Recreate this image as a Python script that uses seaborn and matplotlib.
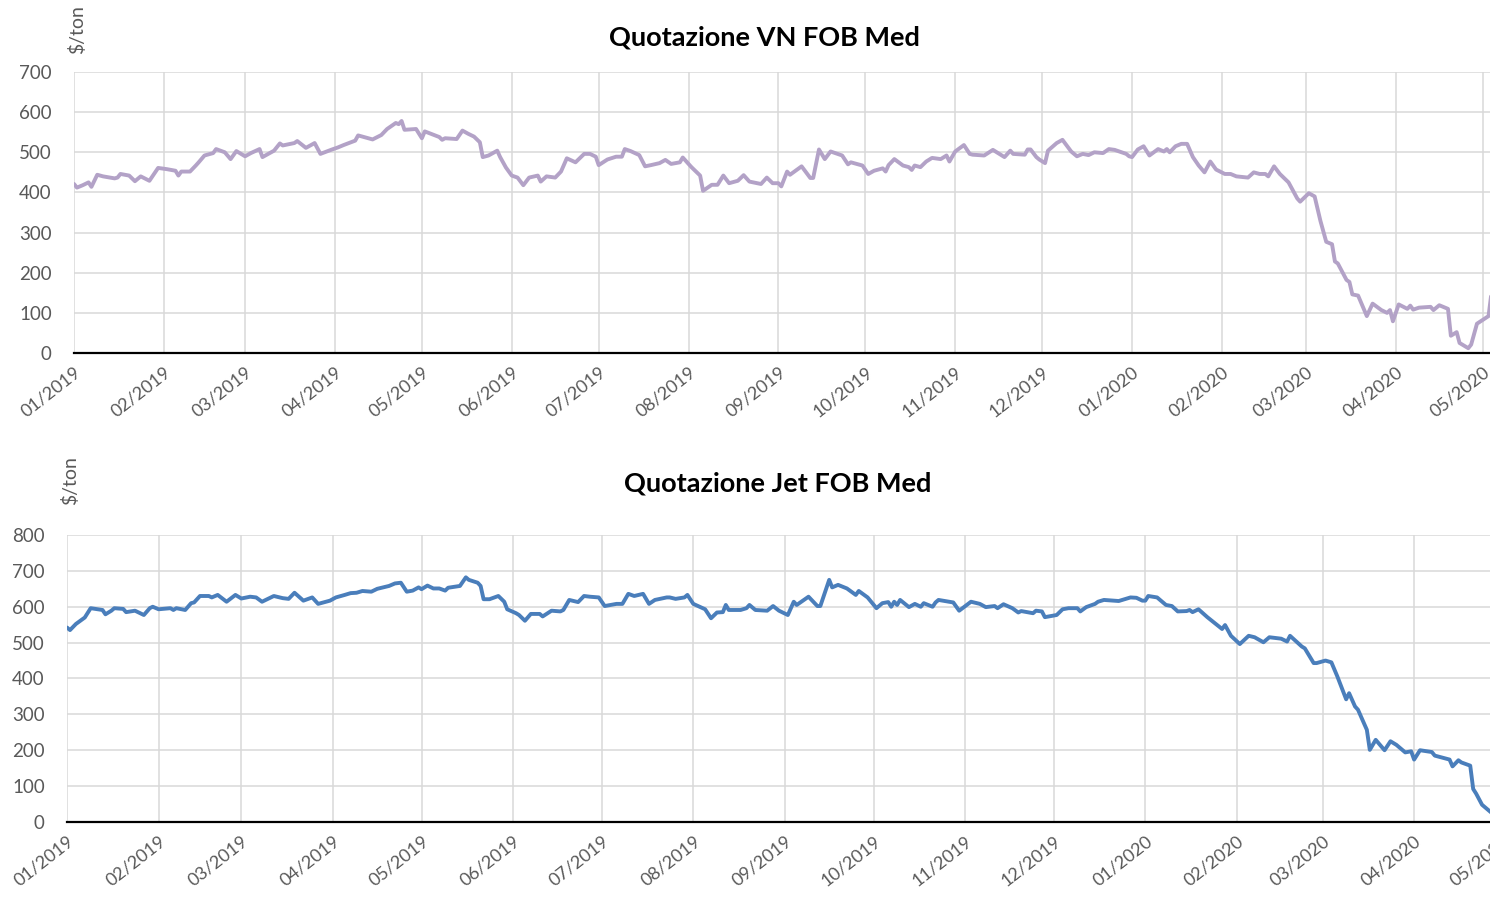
import pandas as pd
import matplotlib.pyplot as plt
import matplotlib.dates as mdates
import seaborn as sns

# ==========================================
# 1. DATA ($/ton)
# ==========================================
vn_dates = [
    "2019-01-01", "2019-01-02", "2019-01-04", "2019-01-06", "2019-01-07", "2019-01-09", "2019-01-11",
    "2019-01-15", "2019-01-16", "2019-01-17", "2019-01-20", "2019-01-22", "2019-01-24", "2019-01-27",
    "2019-01-30", "2019-02-02", "2019-02-05", "2019-02-06", "2019-02-07", "2019-02-10", "2019-02-12",
    "2019-02-13", "2019-02-15", "2019-02-18", "2019-02-19", "2019-02-22", "2019-02-24", "2019-02-26",
    "2019-03-01", "2019-03-03", "2019-03-06", "2019-03-07", "2019-03-11", "2019-03-13", "2019-03-14",
    "2019-03-18", "2019-03-19", "2019-03-22", "2019-03-25", "2019-03-27", "2019-03-31", "2019-04-02",
    "2019-04-04", "2019-04-08", "2019-04-09", "2019-04-11", "2019-04-14", "2019-04-17", "2019-04-19",
    "2019-04-22", "2019-04-23", "2019-04-24", "2019-04-25", "2019-04-29", "2019-05-01", "2019-05-02",
    "2019-05-07", "2019-05-08", "2019-05-09", "2019-05-13", "2019-05-15", "2019-05-17", "2019-05-19",
    "2019-05-21", "2019-05-22", "2019-05-24", "2019-05-27", "2019-05-28", "2019-05-30", "2019-06-01",
    "2019-06-03", "2019-06-05", "2019-06-07", "2019-06-10", "2019-06-11", "2019-06-13", "2019-06-16",
    "2019-06-18", "2019-06-20", "2019-06-23", "2019-06-26", "2019-06-28", "2019-06-30", "2019-07-01",
    "2019-07-04", "2019-07-07", "2019-07-09", "2019-07-10", "2019-07-12", "2019-07-15", "2019-07-17",
    "2019-07-19", "2019-07-22", "2019-07-24", "2019-07-26", "2019-07-29", "2019-07-30", "2019-08-02",
    "2019-08-05", "2019-08-06", "2019-08-09", "2019-08-11", "2019-08-13", "2019-08-15", "2019-08-18",
    "2019-08-20", "2019-08-22", "2019-08-26", "2019-08-28", "2019-08-30", "2019-09-01", "2019-09-02",
    "2019-09-04", "2019-09-05", "2019-09-09", "2019-09-12", "2019-09-13", "2019-09-15", "2019-09-17",
    "2019-09-19", "2019-09-23", "2019-09-25", "2019-09-26", "2019-09-30", "2019-10-02", "2019-10-04",
    "2019-10-07", "2019-10-08", "2019-10-09", "2019-10-11", "2019-10-14", "2019-10-16", "2019-10-17",
    "2019-10-18", "2019-10-20", "2019-10-22", "2019-10-24", "2019-10-27", "2019-10-29", "2019-10-30",
    "2019-11-01", "2019-11-04", "2019-11-06", "2019-11-07", "2019-11-11", "2019-11-14", "2019-11-18",
    "2019-11-20", "2019-11-21", "2019-11-25", "2019-11-26", "2019-11-27", "2019-11-29", "2019-11-30",
    "2019-12-02", "2019-12-03", "2019-12-06", "2019-12-08", "2019-12-11", "2019-12-13", "2019-12-15",
    "2019-12-17", "2019-12-19", "2019-12-22", "2019-12-24", "2019-12-26", "2019-12-30", "2019-12-31",
    "2020-01-01", "2020-01-03", "2020-01-05", "2020-01-07", "2020-01-10", "2020-01-12", "2020-01-13",
    "2020-01-14", "2020-01-16", "2020-01-18", "2020-01-20", "2020-01-22", "2020-01-24", "2020-01-26",
    "2020-01-28", "2020-01-30", "2020-02-02", "2020-02-04", "2020-02-06", "2020-02-10", "2020-02-12",
    "2020-02-14", "2020-02-16", "2020-02-17", "2020-02-19", "2020-02-21", "2020-02-24", "2020-02-27",
    "2020-02-28", "2020-03-02", "2020-03-04", "2020-03-06", "2020-03-08", "2020-03-10", "2020-03-11",
    "2020-03-12", "2020-03-15", "2020-03-16", "2020-03-17", "2020-03-19", "2020-03-22", "2020-03-24",
    "2020-03-27", "2020-03-29", "2020-03-30", "2020-03-31", "2020-04-02", "2020-04-05", "2020-04-06",
    "2020-04-07", "2020-04-09", "2020-04-13", "2020-04-14", "2020-04-16", "2020-04-19", "2020-04-20",
    "2020-04-22", "2020-04-23", "2020-04-26", "2020-04-27", "2020-04-29", "2020-05-03", "2020-05-04",
]
vn_prices = [
    421, 412, 418, 425, 414, 444, 440, 435, 437, 446, 442, 428, 440, 429,
    461, 458, 454, 442, 452, 452, 467, 475, 492, 498, 508, 500, 483, 503,
    490, 498, 508, 488, 504, 522, 517, 523, 528, 511, 523, 496, 507, 512,
    518, 529, 542, 538, 532, 543, 558, 573, 570, 578, 556, 558, 535, 552,
    538, 531, 535, 533, 554, 546, 539, 525, 488, 492, 504, 488, 462, 442,
    437, 418, 437, 442, 427, 440, 437, 452, 485, 475, 496, 496, 489, 468,
    482, 489, 489, 508, 503, 493, 465, 468, 473, 481, 471, 475, 487, 463,
    442, 404, 419, 419, 442, 423, 429, 443, 427, 421, 437, 423, 423, 415,
    452, 444, 465, 436, 436, 507, 483, 502, 492, 470, 475, 467, 446, 454,
    460, 452, 468, 483, 467, 463, 456, 467, 463, 477, 486, 483, 492, 477,
    502, 518, 496, 494, 492, 506, 488, 504, 496, 494, 507, 507, 488, 482,
    473, 504, 523, 531, 502, 490, 496, 493, 500, 498, 508, 506, 496, 490,
    488, 507, 515, 492, 508, 502, 508, 500, 515, 521, 521, 488, 467, 450,
    477, 457, 446, 446, 440, 437, 450, 446, 446, 440, 465, 446, 425, 385,
    377, 398, 390, 329, 277, 271, 228, 223, 182, 177, 146, 143, 92, 123,
    107, 100, 107, 79, 121, 110, 118, 108, 113, 115, 107, 119, 110, 43,
    52, 25, 12, 21, 73, 92, 150,
]

jet_dates = [
    "2019-01-01", "2019-01-02", "2019-01-04", "2019-01-07", "2019-01-09", "2019-01-13", "2019-01-14",
    "2019-01-16", "2019-01-17", "2019-01-20", "2019-01-21", "2019-01-24", "2019-01-27", "2019-01-29",
    "2019-01-30", "2019-02-01", "2019-02-05", "2019-02-06", "2019-02-07", "2019-02-10", "2019-02-12",
    "2019-02-13", "2019-02-15", "2019-02-18", "2019-02-19", "2019-02-21", "2019-02-24", "2019-02-27",
    "2019-03-01", "2019-03-04", "2019-03-06", "2019-03-08", "2019-03-12", "2019-03-15", "2019-03-17",
    "2019-03-19", "2019-03-22", "2019-03-25", "2019-03-27", "2019-03-31", "2019-04-02", "2019-04-05",
    "2019-04-07", "2019-04-09", "2019-04-11", "2019-04-14", "2019-04-16", "2019-04-20", "2019-04-22",
    "2019-04-24", "2019-04-26", "2019-04-28", "2019-04-30", "2019-05-01", "2019-05-03", "2019-05-05",
    "2019-05-07", "2019-05-09", "2019-05-10", "2019-05-14", "2019-05-16", "2019-05-17", "2019-05-20",
    "2019-05-21", "2019-05-22", "2019-05-24", "2019-05-27", "2019-05-29", "2019-05-30", "2019-06-02",
    "2019-06-03", "2019-06-05", "2019-06-07", "2019-06-10", "2019-06-11", "2019-06-14", "2019-06-17",
    "2019-06-18", "2019-06-20", "2019-06-23", "2019-06-25", "2019-06-27", "2019-06-30", "2019-07-02",
    "2019-07-06", "2019-07-08", "2019-07-10", "2019-07-12", "2019-07-15", "2019-07-17", "2019-07-19",
    "2019-07-23", "2019-07-24", "2019-07-26", "2019-07-29", "2019-07-30", "2019-08-01", "2019-08-05",
    "2019-08-07", "2019-08-09", "2019-08-11", "2019-08-12", "2019-08-13", "2019-08-17", "2019-08-19",
    "2019-08-20", "2019-08-22", "2019-08-26", "2019-08-28", "2019-08-30", "2019-09-02", "2019-09-04",
    "2019-09-05", "2019-09-09", "2019-09-12", "2019-09-13", "2019-09-16", "2019-09-17", "2019-09-19",
    "2019-09-22", "2019-09-25", "2019-09-26", "2019-09-29", "2019-10-02", "2019-10-04", "2019-10-06",
    "2019-10-07", "2019-10-08", "2019-10-09", "2019-10-10", "2019-10-13", "2019-10-15", "2019-10-17",
    "2019-10-18", "2019-10-21", "2019-10-22", "2019-10-23", "2019-10-28", "2019-10-30", "2019-11-03",
    "2019-11-06", "2019-11-08", "2019-11-11", "2019-11-12", "2019-11-14", "2019-11-17", "2019-11-19",
    "2019-11-20", "2019-11-24", "2019-11-25", "2019-11-27", "2019-11-28", "2019-12-02", "2019-12-04",
    "2019-12-06", "2019-12-09", "2019-12-10", "2019-12-12", "2019-12-15", "2019-12-16", "2019-12-18",
    "2019-12-23", "2019-12-27", "2019-12-29", "2019-12-31", "2020-01-01", "2020-01-02", "2020-01-05",
    "2020-01-08", "2020-01-10", "2020-01-12", "2020-01-15", "2020-01-16", "2020-01-17", "2020-01-19",
    "2020-01-22", "2020-01-27", "2020-01-28", "2020-01-30", "2020-02-02", "2020-02-05", "2020-02-07",
    "2020-02-10", "2020-02-12", "2020-02-16", "2020-02-18", "2020-02-19", "2020-02-23", "2020-02-24",
    "2020-02-27", "2020-02-28", "2020-03-02", "2020-03-04", "2020-03-06", "2020-03-09", "2020-03-10",
    "2020-03-12", "2020-03-13", "2020-03-16", "2020-03-17", "2020-03-19", "2020-03-22", "2020-03-24",
    "2020-03-26", "2020-03-29", "2020-03-31", "2020-04-01", "2020-04-03", "2020-04-07", "2020-04-08",
    "2020-04-13", "2020-04-14", "2020-04-16", "2020-04-17", "2020-04-20", "2020-04-21", "2020-04-22",
    "2020-04-24", "2020-04-27", "2020-04-28",
]
jet_prices = [
    542, 535, 552, 570, 596, 591, 579, 589, 596, 594, 585, 589, 577, 596,
    600, 593, 596, 591, 596, 591, 610, 612, 630, 630, 626, 633, 614, 633,
    623, 628, 626, 614, 630, 624, 622, 639, 617, 626, 608, 617, 626, 633,
    638, 639, 644, 642, 650, 658, 665, 667, 642, 645, 654, 649, 659, 651,
    651, 645, 653, 658, 682, 675, 667, 658, 621, 621, 630, 614, 593, 582,
    577, 561, 580, 580, 573, 589, 587, 591, 619, 613, 630, 628, 626, 602,
    608, 608, 636, 630, 636, 608, 619, 626, 626, 622, 626, 633, 608, 593,
    568, 584, 585, 605, 591, 591, 596, 605, 591, 589, 602, 589, 577, 614,
    605, 628, 602, 602, 675, 654, 661, 651, 633, 644, 626, 596, 610, 613,
    600, 614, 605, 619, 599, 608, 600, 610, 600, 612, 619, 612, 589, 614,
    608, 599, 602, 596, 607, 596, 584, 588, 582, 589, 587, 571, 577, 593,
    596, 596, 587, 599, 608, 614, 619, 616, 626, 625, 617, 617, 630, 626,
    605, 602, 587, 588, 591, 585, 593, 571, 538, 549, 519, 496, 519, 515,
    501, 515, 511, 503, 519, 489, 484, 443, 443, 450, 445, 406, 342, 359,
    322, 313, 257, 201, 229, 200, 225, 215, 194, 197, 174, 200, 195, 185,
    174, 155, 172, 166, 157, 92, 79, 48, 27, 22,
]

# ==========================================
# 2. STYLE
# ==========================================
sns.set_style("white")
plt.rcParams['font.family'] = ['Lato', 'DejaVu Sans']

GRID = '#d9d9d9'
TEXT = '#595959'
x_start = pd.Timestamp("2019-01-01")
x_end = pd.Timestamp("2020-05-03 12:00")

fig = plt.figure(figsize=(14.9, 9.01), dpi=100)
# bottom chart runs a bit past the right edge, like the cropped screenshot
ax_top = fig.add_axes([0.0497, 0.6082, 0.9503, 0.3119])
ax_bot = fig.add_axes([0.0450, 0.0877, 0.9685, 0.3185])


def style_axis(ax, ymax):
    ax.set_xlim(x_start, x_end)
    ax.set_ylim(0, ymax)
    ax.set_yticks(range(0, ymax + 1, 100))
    ax.xaxis.set_major_locator(mdates.MonthLocator())
    ax.xaxis.set_major_formatter(mdates.DateFormatter('%m/%Y'))
    ax.grid(True, color=GRID, linewidth=1.1)
    ax.set_axisbelow(True)
    for side in ['top', 'right', 'left']:
        ax.spines[side].set_visible(False)
    ax.spines['bottom'].set_color('black')
    ax.spines['bottom'].set_linewidth(1.6)
    ax.tick_params(axis='y', length=0, pad=16, labelsize=13.5, labelcolor=TEXT)
    ax.tick_params(axis='x', length=0, pad=8, labelsize=13, labelcolor=TEXT)
    for lbl in ax.get_xticklabels():
        lbl.set_rotation(38)
        lbl.set_ha('right')
        lbl.set_va('top')
        lbl.set_rotation_mode('anchor')
    ax.set_xlabel(None)
    ax.set_ylabel(None)


# ==========================================
# 3. PLOT
# ==========================================
sns.lineplot(x=pd.to_datetime(vn_dates), y=vn_prices, ax=ax_top,
             color='#b3a2c7', linewidth=2.8)
style_axis(ax_top, 700)

sns.lineplot(x=pd.to_datetime(jet_dates), y=jet_prices, ax=ax_bot,
             color='#4a7ebb', linewidth=2.8)
style_axis(ax_bot, 800)

# titles and unit labels sit above the plot areas
fig.text(0.513, 0.958, 'Quotazione VN FOB Med', ha='center', va='center',
         fontsize=19.5, fontweight='bold', color='black')
fig.text(0.522, 0.463, 'Quotazione Jet FOB Med', ha='center', va='center',
         fontsize=19.5, fontweight='bold', color='black')
fig.text(0.052, 0.967, '$/ton', rotation=90, ha='center', va='center',
         fontsize=14, color=TEXT)
fig.text(0.047, 0.467, '$/ton', rotation=90, ha='center', va='center',
         fontsize=14, color=TEXT)

fig.savefig('out.png', dpi=100)
print("saved out.png")
